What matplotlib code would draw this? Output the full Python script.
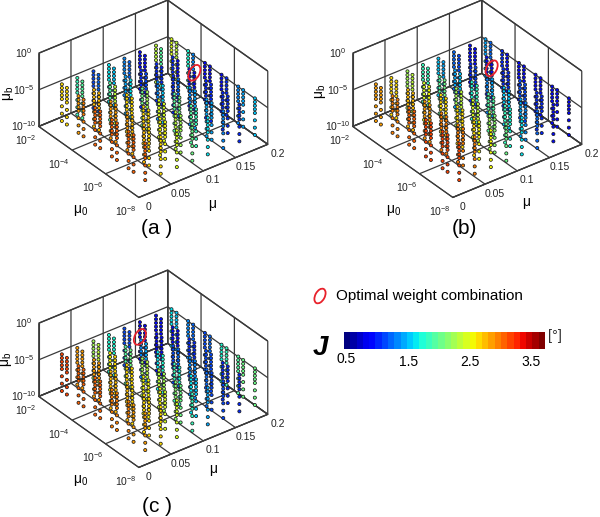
import numpy as np
import matplotlib
matplotlib.use('Agg')
import matplotlib.pyplot as plt
from matplotlib.colors import Normalize
from matplotlib.markers import MarkerStyle
from matplotlib.transforms import Affine2D

plt.rcParams['font.family'] = ['Liberation Sans', 'DejaVu Sans']
plt.rcParams['mathtext.default'] = 'regular'

##grid of the weights
mu_values = [0.01, 0.034, 0.059, 0.083, 0.107, 0.131, 0.156, 0.18]
mu0_exps = [-3, -3.3, -4, -4.3, -5, -5.3, -6, -6.3, -7, -7.3, -8]
mub_exps = [-8, -7, -6, -5, -4.5, -4, -3.5, -3]

J_a = [[2.6, 2.6, 2.9, 3.0, 3.1, 3.1, 3.1, 3.1, 3.1, 3.1, 3.1],
       [1.8, 1.9, 2.8, 2.8, 2.9, 2.9, 2.9, 2.8, 2.8, 2.7, 2.6],
       [1.1, 1.2, 1.9, 2.3, 2.6, 2.7, 2.6, 2.6, 2.5, 2.5, 2.4],
       [1.6, 1.5, 1.4, 1.6, 2.0, 2.2, 2.4, 2.4, 2.3, 2.2, 2.0],
       [1.3, 1.2, 1.0, 1.1, 1.3, 1.5, 1.9, 2.0, 1.9, 1.8, 1.6],
       [0.9, 0.9, 1.0, 1.0, 1.0, 1.2, 1.3, 1.4, 1.4, 1.4, 1.3],
       [2.3, 1.9, 1.0, 0.9, 0.9, 0.9, 1.0, 1.0, 1.0, 1.0, 1.0],
       [2.4, 2.3, 1.7, 1.3, 0.9, 0.9, 0.9, 1.0, 1.3, 1.4, 1.5]]
J_b = [[2.9, 2.9, 3.0, 3.0, 3.1, 3.1, 3.2, 3.2, 3.2, 3.2, 3.2],
       [2.6, 2.7, 2.8, 2.8, 2.9, 2.9, 3.0, 3.0, 3.0, 3.0, 3.0],
       [2.2, 2.3, 2.4, 2.5, 2.6, 2.6, 2.6, 2.6, 2.6, 2.5, 2.5],
       [1.8, 1.8, 1.9, 2.0, 2.2, 2.3, 2.4, 2.3, 2.2, 2.1, 2.0],
       [1.5, 1.4, 1.4, 1.5, 1.7, 1.8, 1.9, 1.9, 1.8, 1.7, 1.6],
       [1.2, 1.1, 1.0, 1.1, 1.3, 1.4, 1.5, 1.5, 1.4, 1.3, 1.2],
       [0.9, 0.9, 0.9, 0.9, 1.0, 1.0, 1.1, 1.1, 1.0, 1.0, 0.9],
       [1.4, 1.2, 1.0, 0.9, 0.9, 0.9, 0.9, 0.9, 0.9, 0.9, 0.8]]
J_c = [[3.2, 3.2, 3.1, 3.1, 3.1, 3.1, 3.0, 3.0, 3.0, 2.9, 2.9],
       [2.9, 2.9, 2.9, 2.9, 2.8, 2.8, 2.8, 2.7, 2.7, 2.6, 2.6],
       [2.2, 2.3, 2.5, 2.6, 2.6, 2.6, 2.5, 2.5, 2.5, 2.4, 2.4],
       [1.7, 1.7, 1.9, 2.0, 2.2, 2.3, 2.3, 2.2, 2.1, 2.0, 1.8],
       [1.1, 1.1, 1.3, 1.4, 1.6, 1.7, 1.8, 1.7, 1.6, 1.5, 1.4],
       [0.8, 0.8, 0.9, 0.9, 1.1, 1.2, 1.3, 1.3, 1.2, 1.1, 1.1],
       [0.9, 0.9, 0.9, 0.9, 1.0, 1.0, 1.1, 1.1, 1.0, 1.0, 1.0],
       [1.6, 1.5, 1.3, 1.2, 1.1, 1.2, 1.7, 1.8, 1.9, 2.0, 2.0]]

##optimal weights (mu, log mu0, log mub)
best_a = (0.156, -5.3, -3)
best_b = (0.156, -4.3, -4)
best_c = (0.131, -3, -5)

mu_ticks = [0, 0.05, 0.1, 0.15, 0.2]
mu_ticklabels = ['0', '0.05', '0.1', '0.15', '0.2']
mu0_ticks = [-8, -6, -4, -2]
mu0_ticklabels = ['$10^{-8}$', '$10^{-6}$', '$10^{-4}$', '$10^{-2}$']
mub_ticks = [-10, -5, 0]
mub_ticklabels = ['$10^{-10}$', '$10^{-5}$', '$10^{0}$']

cbar_ticks = [0.5, 1.5, 2.5, 3.5]
J_min, J_max = 0.46, 3.72

W, H = 600, 517
fig = plt.figure(figsize=(W / 100, H / 100), dpi=100)
cmap = plt.get_cmap('jet', 32)
norm = Normalize(J_min, J_max)
line_col = '#3a3a3a'


def put_text(x, y, s, **kw):
    fig.text(x / W, 1 - y / H, s, ha=kw.pop('ha', 'center'), va='center', **kw)


def panel(cx, cy, table, best):
    size = 240
    ax = fig.add_axes([(cx - size / 2) / W, 1 - (cy + size / 2) / H, size / W, size / H],
                      projection='3d', proj_type='ortho')
    ax.patch.set_alpha(0)
    ax.view_init(elev=32.7, azim=-127.3)
    ax.set_box_aspect((162, 165, 87), zoom=1)

    xs, ys, zs, cs = [], [], [], []
    for i, m in enumerate(mu_values):
        for j, m0 in enumerate(mu0_exps):
            for b in mub_exps:
                xs.append(m)
                ys.append(m0)
                zs.append(b)
                cs.append(table[i][j])
    ax.scatter(xs, ys, zs, c=cs, cmap=cmap, norm=norm, s=5, edgecolors='#1a1a1a',
               linewidths=0.55, depthshade=False, alpha=1)
    ring = MarkerStyle('o', transform=Affine2D().scale(0.6, 1).rotate_deg(-28))
    ax.scatter([best[0]], [best[1]], [best[2]], marker=ring, s=150, facecolors='none',
               edgecolors='#e8212b', linewidths=1.3, depthshade=False, zorder=50)
    ax.computed_zorder = False

    ax.set_xlim(0, 0.2, view_margin=0)
    ax.set_ylim(-8, -2, view_margin=0)
    ax.set_zlim(-10, 0, view_margin=0)
    ax.set_xticks(mu_ticks, mu_ticklabels)
    ax.set_yticks(mu0_ticks, mu0_ticklabels)
    ax.set_zticks(mub_ticks, mub_ticklabels)
    ax.tick_params(labelsize=7.5, colors='#222222')
    ax.tick_params(axis='x', pad=1)
    ax.tick_params(axis='y', pad=1)
    ax.tick_params(axis='z', pad=-2)
    for t in ax.xaxis.get_ticklabels():
        t.set_va('bottom')
    for t in ax.yaxis.get_ticklabels() + ax.zaxis.get_ticklabels():
        t.set_va('center_baseline')

    for axis in (ax.xaxis, ax.yaxis, ax.zaxis):
        axis.set_pane_color((1, 1, 1, 1))
        axis.pane.set_edgecolor(line_col)
        axis.line.set_color(line_col)
        axis._axinfo['grid'].update(color=line_col, linewidth=0.9)
        axis._axinfo['tick'].update(inward_factor=0, outward_factor=0)
    return ax


panel(150, 102, J_a, best_a)
panel(464, 102, J_b, best_b)
panel(150, 372, J_c, best_c)

##axis names and panel letters
for x, y, s in [(81, 211, 'μ$_0$'), (212, 204, 'μ'), (394, 211, 'μ$_0$'), (526, 202, 'μ'),
                (81, 480, 'μ$_0$'), (213, 469, 'μ')]:
    put_text(x, y, s, fontsize=10)
for x, y in [(8, 93), (320, 91), (7, 359)]:
    put_text(x, y, 'μ$_b$', fontsize=10, rotation=90)
for x, y, s in [(157, 228, '(a )'), (464, 228, '(b)'), (157, 506, '(c )')]:
    put_text(x, y, s, fontsize=15)

##legend
leg = fig.add_axes([0, 0, 1, 1])
leg.set_xlim(0, W)
leg.set_ylim(H, 0)
leg.axis('off')
ring = MarkerStyle('o', transform=Affine2D().scale(0.6, 1).rotate_deg(-28))
leg.scatter([320], [296], marker=ring, s=130, facecolors='none', edgecolors='#e8212b', linewidths=1.3)
put_text(336, 296, 'Optimal weight combination', fontsize=11, ha='left')
put_text(320, 348, 'J', fontsize=20, fontweight='bold', style='italic')

##colour bar
cax = fig.add_axes([344 / W, 1 - 349 / H, 201 / W, 17 / H])
sm = plt.cm.ScalarMappable(norm=norm, cmap=cmap)
cbar = fig.colorbar(sm, cax=cax, orientation='horizontal')
cbar.outline.set_visible(False)
cbar.set_ticks(cbar_ticks, labels=[])
cax.tick_params(length=0)
for v, lab in zip(cbar_ticks, ['0.5', '1.5', '2.5', '3.5']):
    cax.annotate(lab, (v, 0), xycoords=('data', 'axes fraction'), xytext=(0, -10 if v == 0.5 else -13),
                 textcoords='offset pixels', fontsize=10, ha='center', va='center')
put_text(555, 336, '[°]', fontsize=10.5, color='#333333')

fig.savefig('out.png', dpi=100)
